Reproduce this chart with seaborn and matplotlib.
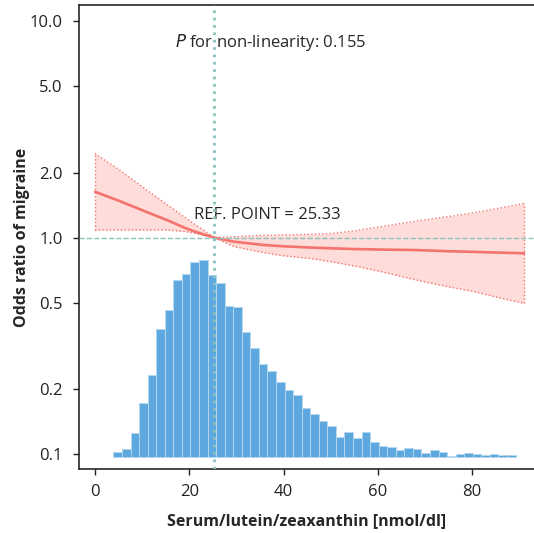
import numpy as np
import pandas as pd
import matplotlib
matplotlib.use("Agg")
import matplotlib.pyplot as plt
import seaborn as sns

# histogram of exposure (bar heights)
hist_start, hist_end = 3.9, 89.2
hist_counts = [4.7, 8, 24, 53.4, 81.7, 127.7, 146.7, 177, 183, 195, 197, 181.7,
               174, 151, 149.4, 125, 108.7, 92.4, 86, 74.4, 66.7, 62, 48.4, 42.7,
               35.7, 31, 20, 24.7, 18.4, 24.7, 15, 11, 9.7, 6.7, 8.4, 7.7, 4,
               6.4, 5, 1, 2.4, 3.7, 3, 1.7, 2.4, 1.4, 1.4]

# restricted cubic spline estimate with 95% CI
spline_x = [0, 5, 12, 15.5, 19.1, 20.5, 22.6, 25.33, 29.5, 35.8, 40, 46.4, 50,
            55, 60.6, 67.7, 74.7, 80, 85, 91]
spline_or = [1.63, 1.483, 1.287, 1.2, 1.109, 1.08, 1.043, 1.0, 0.958, 0.925,
             0.912, 0.899, 0.893, 0.886, 0.881, 0.877, 0.866, 0.86, 0.854, 0.847]
spline_lo = [1.085, 1.085, 1.085, 1.085, 1.068, 1.055, 1.03, 1.0, 0.909, 0.853,
             0.825, 0.797, 0.775, 0.74, 0.697, 0.64, 0.594, 0.566, 0.532, 0.497]
spline_hi = [2.45, 2.07, 1.60, 1.41, 1.24, 1.18, 1.10, 1.0, 1.01, 1.025, 1.03,
             1.037, 1.045, 1.075, 1.124, 1.19, 1.25, 1.30, 1.36, 1.44]

ref_point = 25.33
p_nonlin = 0.155
y_ticks = [0.1, 0.2, 0.5, 1.0, 2.0, 5.0, 10.0]
x_ticks = [0, 20, 40, 60, 80]

sns.set_style("ticks")
plt.rcParams["font.family"] = ["Open Sans", "DejaVu Sans"]

fig = plt.figure(figsize=(5.34, 5.33), dpi=100)
ax = fig.add_axes([0.1485, 0.120, 0.8515, 0.8706])
ax2 = ax.twinx()

# histogram on the twin axis, behind the spline
edges = np.linspace(hist_start, hist_end, len(hist_counts) + 1)
hist_df = pd.DataFrame({"value": (edges[:-1] + edges[1:]) / 2, "n": hist_counts})
sns.histplot(data=hist_df, x="value", weights="n", bins=list(edges), ax=ax2,
             color="#5DA8DF", edgecolor="#B5D7F0", linewidth=0.7, alpha=1)
ax2.set_ylim(-12.3, 451.7)
ax2.set_yticks([])
ax2.set_ylabel("")
for s in ax2.spines.values():
    s.set_visible(False)

ax.set_zorder(ax2.get_zorder() + 1)
ax.patch.set_visible(False)

red = "#F4736C"
ax.fill_between(spline_x, spline_lo, spline_hi, color="#FDDCD9", lw=0)
ax.plot(spline_x, spline_lo, color=red, lw=1, ls=":")
ax.plot(spline_x, spline_hi, color=red, lw=1, ls=":")
ax.plot([spline_x[0], spline_x[0]], [spline_lo[0], spline_hi[0]], color=red, lw=1, ls=":")
ax.plot([spline_x[-1], spline_x[-1]], [spline_lo[-1], spline_hi[-1]], color=red, lw=1, ls=":")
sns.lineplot(x=spline_x, y=spline_or, ax=ax, color=red, lw=1.9)

ax.axhline(1.0, color="#8CC2BE", lw=1, ls="--", zorder=5)
ax.axvline(ref_point, color="#8CC2BE", lw=2, ls=":", zorder=5)

ax.set_yscale("log")
ax.set_ylim(0.0852, 11.9)
ax.set_xlim(-3.33, 93.1)
ax.set_yticks(y_ticks)
ax.set_yticklabels([f"{t:.1f}" for t in y_ticks])
ax.yaxis.set_minor_locator(matplotlib.ticker.NullLocator())
ax.set_xticks(x_ticks)
ax.tick_params(labelsize=12, length=4, width=1, colors="#222222")
ax.tick_params(axis="y", pad=8)
ax.tick_params(axis="x", pad=7)
ax.spines["right"].set_visible(False)
for s in ["left", "bottom", "top"]:
    ax.spines[s].set_linewidth(1.2)

ax.text(17, 8.0, r"$\it{P}$ for non-linearity: " + f"{p_nonlin}", fontsize=12,
        va="center", ha="left")
ax.text(21, 1.27, f"REF. POINT = {ref_point}", fontsize=12, va="center", ha="left")

ax.set_xlabel("Serum/lutein/zeaxanthin [nmol/dl]", fontsize=11.5, fontweight="bold",
              labelpad=9)
ax.set_ylabel("Odds ratio of migraine", fontsize=11.5, fontweight="bold", labelpad=0)

fig.savefig("out.png", dpi=100)
